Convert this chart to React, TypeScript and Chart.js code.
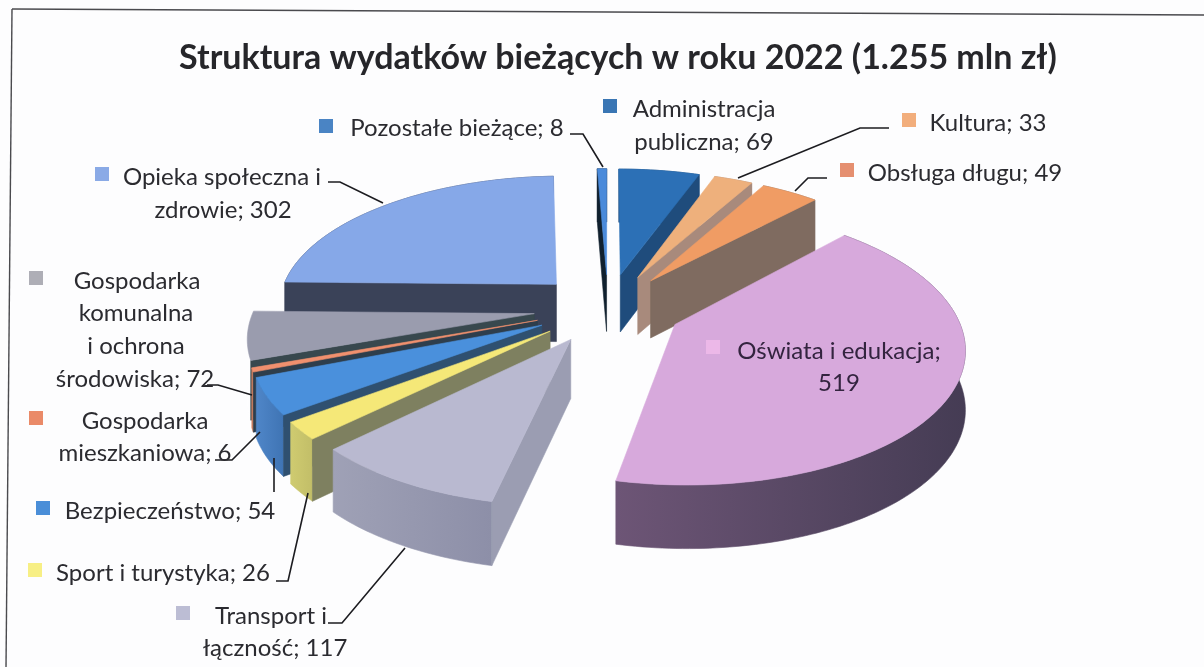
import React, { useEffect, useRef } from "react";
import Chart from "chart.js/auto";

const titleText = "Struktura wydatków bieżących w roku 2022 (1.255 mln zł)";
const categoryLines: string[][] = [
  ["Administracja", "publiczna"],
  ["Kultura"],
  ["Obsługa długu"],
  ["Oświata i edukacja", ""],
  ["Transport i", "łączność"],
  ["Sport i turystyka"],
  ["Bezpieczeństwo"],
  ["Gospodarka", "mieszkaniowa"],
  ["Gospodarka", "komunalna", "i ochrona", "środowiska"],
  ["Opieka społeczna i", "zdrowie"],
  ["Pozostałe bieżące"],
];
const values = [69, 33, 49, 519, 117, 26, 54, 6, 72, 302, 8];

const topColors = ["#2c70b6", "#eeb07c", "#f09c64", "#d7a9dc", "#b9b9d0", "#f5e878", "#4a90dc", "#f0906e", "#9a9cae", "#86a8e8", "#4a8ada"];
const radialColors = ["#1f4c7c", "#a88a7c", "#7f6b60", "#3e3648", "#9b9db2", "#7e8060", "#2f5070", "#2e3e4c", "#38484e", "#3a4258", "#10202e"];
const outerColors: string[][] = [
  ["#1f4c7c", "#1f4c7c"], ["#a88a7c", "#a88a7c"], ["#7f6b60", "#7f6b60"],
  ["#6d5576", "#453c54"], ["#9fa1b6", "#8d8fa8"], ["#cfcb70", "#c2be68"],
  ["#4f86c8", "#3f74b4"], ["#d08060", "#d08060"], ["#fdfdfe", "#fdfdfe"],
  ["#3a4258", "#3a4258"], ["#10202e", "#10202e"],
];

// Order of label boxes follows categoryLines
const labelBoxes = [
  { key: [610, 106], anchor: [[704, 109], [704, 142]] },
  { key: [909, 120], anchor: [[988, 123]] },
  { key: [847, 170], anchor: [[965, 173]] },
  { key: [713, 347], anchor: [[839, 351], [839, 383]] },
  { key: [183, 613], anchor: [[271, 616], [275, 648]] },
  { key: [35, 570], anchor: [[163, 573]] },
  { key: [43, 508], anchor: [[170, 511]] },
  { key: [36, 418], anchor: [[145, 421], [145, 453]] },
  { key: [36, 278], anchor: [[137, 281], [136, 313], [136, 346], [135, 379]] },
  { key: [102, 174], anchor: [[222, 177], [223, 210]] },
  { key: [326, 126], anchor: [[457, 128]] },
];
const keyColors = ["#3a76b4", "#f2ae7c", "#e58f70", "#ecb8e8", "#bcbdd4", "#f7ef85", "#4a8ed8", "#ea8a68", "#aeaeb6", "#8aaae6", "#4a84c4"];
const leaders: number[][][] = [
  [[570, 134], [583, 134], [603, 167]],
  [[889, 128], [860, 128], [738, 178]],
  [[827, 178], [808, 178], [795, 191]],
  [[328, 182], [340, 182], [383, 203]],
  [[207, 385], [218, 385], [252, 395]],
  [[215, 460], [232, 460], [260, 432]],
  [[274, 458], [274, 492]],
  [[276, 581], [288, 581], [308, 493]],
  [[328, 623], [342, 623], [405, 548]],
];
const frameLines: number[][][] = [
  [[12, 9], [1204, 15]],
  [[12, 9], [6, 667]],
];

const VIEW = { cx: 608, cy: 308, rx: 280, ry: 131, persp: 0.15, explode: 0.265, depth: 58 };

function project(X: number, Y: number, lower: boolean) {
  const w = 1 - VIEW.persp * Y;
  const y = VIEW.cy + (VIEW.ry * Y) / w;
  return {
    x: VIEW.cx + (VIEW.rx * X) / w,
    y: lower ? y + VIEW.depth / Math.sqrt(w) : y,
  };
}

const trace = (ctx: CanvasRenderingContext2D, pts: { x: number; y: number }[]) => {
  ctx.beginPath();
  pts.forEach((p, i) => (i ? ctx.lineTo(p.x, p.y) : ctx.moveTo(p.x, p.y)));
  ctx.closePath();
};

const pie3d = {
  id: "pie3d",
  beforeDatasetDraw(chart: any, args: any) {
    const ctx: CanvasRenderingContext2D = chart.ctx;
    const arcs = args.meta.data.map((el: any, i: number) => {
      const s = el.startAngle + Math.PI / 2;
      const e = el.endAngle + Math.PI / 2;
      const m = (s + e) / 2;
      return { i, s, e, ox: VIEW.explode * Math.sin(m), oy: -VIEW.explode * Math.cos(m), fill: el.options.backgroundColor };
    });
    arcs.sort((a: any, b: any) => a.oy - b.oy);
    ctx.save();
    for (const a of arcs) {
      const rim = (lower: boolean) => {
        const pts = [];
        const n = Math.max(4, Math.ceil((a.e - a.s) / 0.02));
        for (let k = 0; k <= n; k++) {
          const t = a.s + ((a.e - a.s) * k) / n;
          pts.push(project(a.ox + Math.sin(t), a.oy - Math.cos(t), lower));
        }
        return pts;
      };
      const tipT = project(a.ox, a.oy, false);
      const tipB = project(a.ox, a.oy, true);
      const top = rim(false);
      const bottom = rim(true);
      const wall = (p: any[], color: any) => {
        trace(ctx, p);
        ctx.fillStyle = color;
        ctx.strokeStyle = color;
        ctx.lineWidth = 0.6;
        ctx.fill();
        ctx.stroke();
      };
      const xs = top.map((p) => p.x);
      const g = ctx.createLinearGradient(Math.min(...xs), 0, Math.max(...xs), 0);
      g.addColorStop(0, outerColors[a.i][0]);
      g.addColorStop(1, outerColors[a.i][1]);
      wall([...top, ...bottom.slice().reverse()], g);
      // a cut face is painted only when it turns towards the viewer
      if (Math.sin(a.s) < 0) wall([tipT, top[0], bottom[0], tipB], radialColors[a.i]);
      if (Math.sin(a.e) > 0) wall([tipT, top[top.length - 1], bottom[bottom.length - 1], tipB], radialColors[a.i]);
      wall([tipT, ...top], a.fill);
    }
    ctx.restore();
    return false;
  },
  afterDraw(chart: any) {
    const ctx: CanvasRenderingContext2D = chart.ctx;
    ctx.save();
    ctx.strokeStyle = "#4a4a4e";
    ctx.lineWidth = 1.4;
    for (const l of frameLines) {
      ctx.beginPath();
      l.forEach(([x, y], i) => (i ? ctx.lineTo(x, y) : ctx.moveTo(x, y)));
      ctx.stroke();
    }
    ctx.strokeStyle = "#1c1c20";
    ctx.lineWidth = 1.6;
    for (const l of leaders) {
      ctx.beginPath();
      l.forEach(([x, y], i) => (i ? ctx.lineTo(x, y) : ctx.moveTo(x, y)));
      ctx.stroke();
    }
    ctx.font = "24px Lato";
    ctx.textAlign = "center";
    ctx.textBaseline = "middle";
    labelBoxes.forEach((b, i) => {
      ctx.fillStyle = keyColors[i];
      ctx.fillRect(b.key[0] - 7, b.key[1] - 7, 14, 14);
      ctx.fillStyle = i === 3 ? "#33243f" : "#2b2b30";
      const lines = categoryLines[i];
      lines.forEach((t, j) => {
        let text = t;
        if (j === lines.length - 1) text = t ? `${t}; ${values[i]}` : `${values[i]}`;
        else if (lines[j + 1] === "") text = `${t};`;
        ctx.fillText(text, b.anchor[j][0], b.anchor[j][1]);
      });
    });
    ctx.restore();
  },
};

export default function App() {
  const ref = useRef<HTMLCanvasElement>(null);
  useEffect(() => {
    document.body.style.margin = "0";
    const chart = new Chart(ref.current!, {
      type: "pie",
      data: {
        labels: categoryLines.map((l) => l.filter(Boolean).join(" ")),
        datasets: [{ data: values, backgroundColor: topColors, borderWidth: 0 }],
      },
      plugins: [pie3d],
      options: {
        responsive: false,
        animation: false,
        layout: { padding: { left: 32 } },
        plugins: {
          legend: { display: false },
          tooltip: { enabled: false },
          title: {
            display: true,
            text: titleText,
            color: "#26262a",
            font: { family: "Lato", size: 34, weight: "bold" },
            padding: { top: 38, bottom: 10 },
          },
        },
      },
    } as any);
    return () => chart.destroy();
  }, []);
  return (
    <div style={{ width: 1204, height: 667, background: "#fdfdfe", overflow: "hidden" }}>
      <canvas ref={ref} width={1204} height={667} style={{ display: "block" }} />
    </div>
  );
}
